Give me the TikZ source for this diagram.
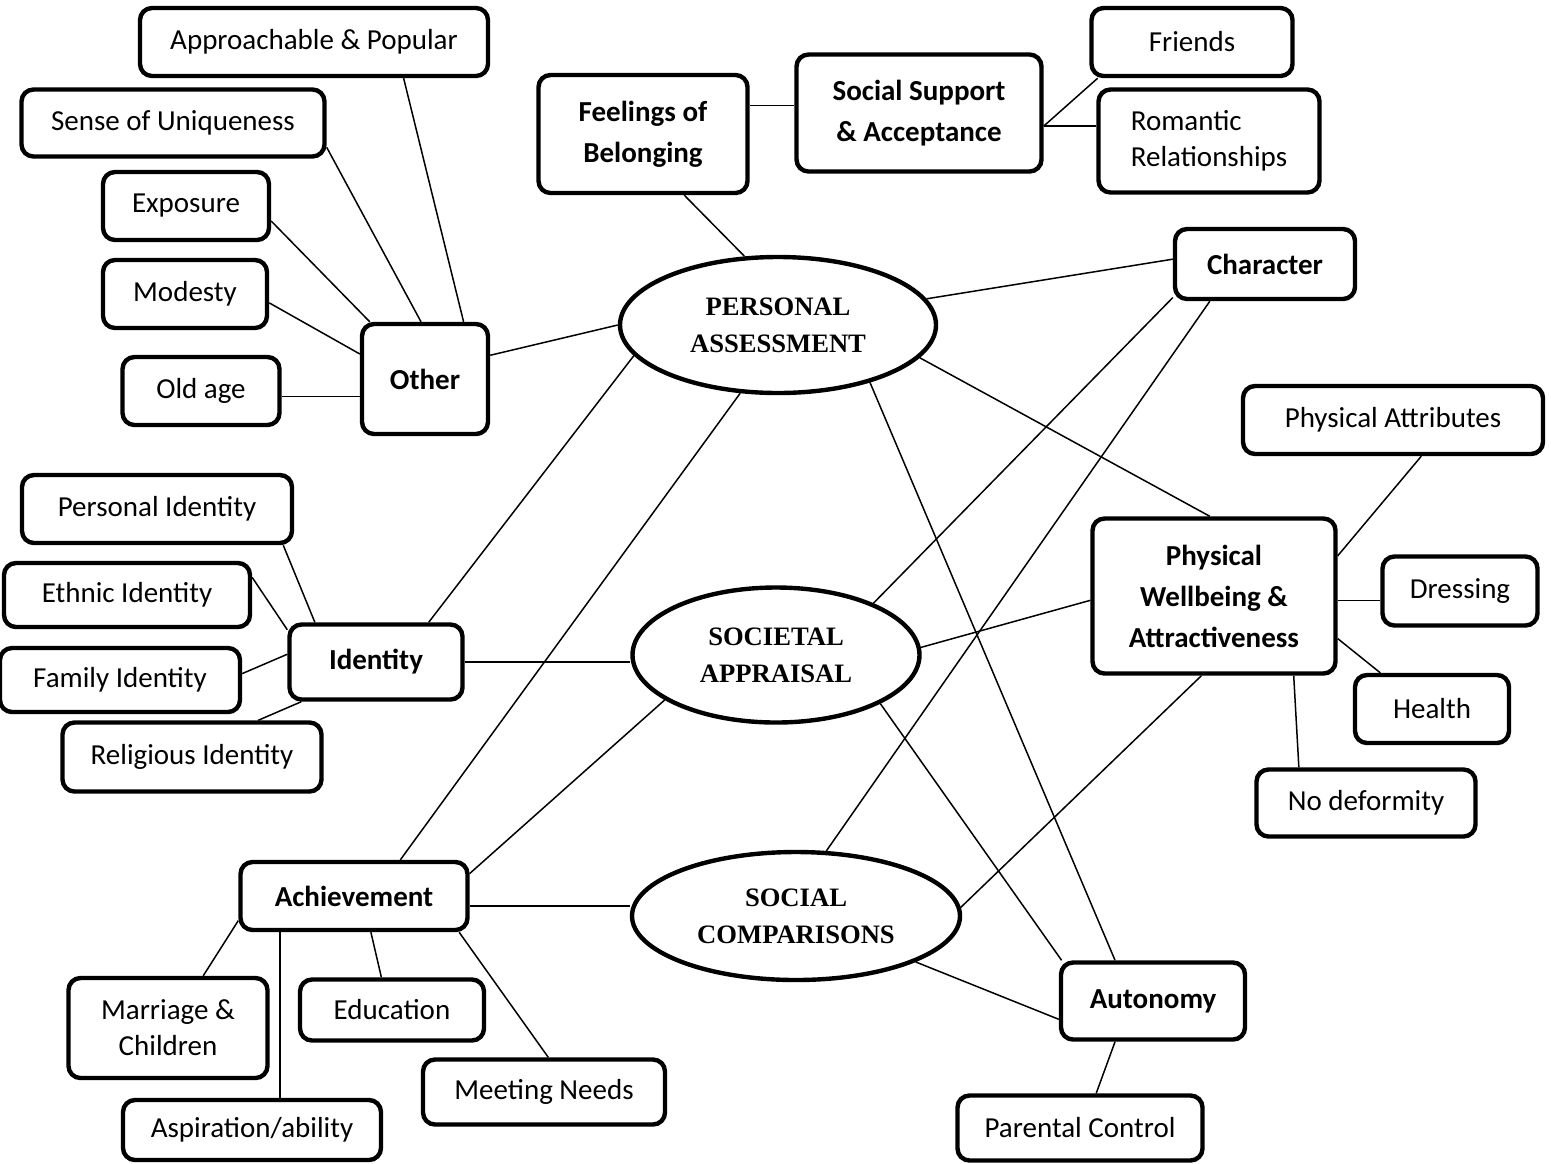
\documentclass[tikz,border=0pt]{standalone}
\usepackage{fontspec}
\setmainfont{Carlito}
\newfontfamily\tnr{Liberation Serif}
\usetikzlibrary{shapes.geometric}

\begin{document}
\begin{tikzpicture}[x=0.5pt, y=-0.5pt,
  sz/.style 2 args={minimum width=#1*0.5pt, minimum height=#2*0.5pt},
  leaf/.style={draw, line width=2.2pt, rounded corners=6pt, align=center,
    inner sep=2pt, font=\fontsize{14.5}{18}\selectfont},
  hub/.style={leaf, font=\fontsize{14.5}{20.5}\selectfont\bfseries},
  core/.style={draw, ellipse, line width=2.2pt, inner sep=0pt, align=center,
    font=\fontsize{13.3}{18.5}\selectfont\tnr\bfseries},
  link/.style={line width=0.75pt}]

\useasboundingbox (0,0) rectangle (1551,1163);

% the three appraisals
\node[core, sz={316}{136}] (pa) at (778,325) {PERSONAL\\ASSESSMENT};
\node[core, sz={287}{135}] (sa) at (776,655) {SOCIETAL\\APPRAISAL};
\node[core, sz={328}{128}] (sc) at (796,916) {SOCIAL\\COMPARISONS};

% other
\node[leaf, sz={348}{68}] (appr) at (314,42) {Approachable \& Popular};
\node[leaf, sz={303}{67}] (uniq) at (173,123) {Sense of Uniqueness};
\node[leaf, sz={166}{68}] (expo) at (186,206) {Exposure};
\node[leaf, sz={164}{68}] (mod) at (185,294) {Modesty};
\node[leaf, sz={157}{68}] (old) at (201,391) {Old age};
\node[hub, sz={126}{110}] (other) at (425,379) {Other};

% belonging
\node[hub, sz={209}{118}] (feel) at (643,134) {Feelings of\\Belonging};
\node[hub, sz={245}{117}] (supp) at (919,113) {Social Support\\\& Acceptance};
\node[leaf, sz={201}{68}] (friends) at (1192,42) {Friends};
\node[leaf, sz={221}{103}, align=left] (rom) at (1209,141) {Romantic\\Relationships};

\node[hub, sz={180}{70}] (char) at (1265,264) {Character};

% physical
\node[leaf, sz={300}{68}] (attr) at (1393,420) {Physical Attributes};
\node[hub, sz={243}{155}] (phys) at (1214,596) {Physical\\Wellbeing \&\\Attractiveness};
\node[leaf, sz={155}{69}] (dress) at (1460,591) {Dressing};
\node[leaf, sz={154}{68}] (health) at (1432,709) {Health};
\node[leaf, sz={219}{67}] (deform) at (1366,803) {No deformity};

\node[hub, sz={184}{77}] (auto) at (1153,1001) {Autonomy};
\node[leaf, sz={245}{65}] (parent) at (1080,1128) {Parental Control};

% identity
\node[leaf, sz={270}{68}] (pers) at (157,509) {Personal Identity};
\node[leaf, sz={246}{64}] (ethnic) at (127,595) {Ethnic Identity};
\node[leaf, sz={240}{64}] (family) at (120,680) {Family Identity};
\node[hub, sz={173}{75}] (ident) at (376,662) {Identity};
\node[leaf, sz={259}{69}] (relig) at (192,757) {Religious Identity};

% achievement
\node[hub, sz={227}{68}] (ach) at (354,896) {Achievement};
\node[leaf, sz={199}{100}] (marr) at (168,1028) {Marriage \&\\Children};
\node[leaf, sz={184}{61}] (edu) at (392,1010) {Education};
\node[leaf, sz={242}{65}] (needs) at (544,1092) {Meeting Needs};
\node[leaf, sz={258}{60}] (asp) at (252,1130) {Aspiration/ability};

\draw[link] (appr.-22) -- (other.56);
\draw[link] (uniq.-9) -- (other.94);
\draw[link] (expo.-10) -- (other.134);
\draw[link] (mod.-6) -- (other.159);
\draw[link] (old.-4) -- (old.-4 -| other.west);
\draw[link] (other.20) -- (pa.180);

\draw[link] (feel.-56) -- (pa.116);
\draw[link] (feel.15) -- (supp.west |- feel.15);
\draw[link] (supp.-6) -- (friends.201);
\draw[link] (supp.-6) -- (supp.-6 -| rom.west);

\draw[link] (pa.10) -- (char.177);
\draw[link] (sa.28) -- (char.200);
\draw[link] (sc.65) -- (char.214);

\draw[link] (pa.-13) -- (phys.93);
\draw[link] (sa.3) -- (phys.182);
\draw[link] (sc.3) -- (phys.261);
\draw[link] (phys.18) -- (attr.-52);
\draw[link] (phys.-2) -- (phys.-2 -| dress.west);
\draw[link] (phys.-19) -- (health.145);
\draw[link] (phys.-45) -- (deform.152);

\draw[link] (pa.-32) -- (auto.133);
\draw[link] (sa.-25) -- (auto.156);
\draw[link] (sc.-21) -- (auto.191);
\draw[link] (auto.227) -- (parent.65);

\draw[link] (pa.192) -- (ident.37);
\draw[link] (ident.east) -- (ident.east -| sa.west);
\draw[link] (pers.-16) -- (ident.147);
\draw[link] (ethnic.8) -- (ident.160);
\draw[link] (family.3) -- (ident.175);
\draw[link] (relig.29) -- (ident.208);

\draw[link] (pa.241) -- (ach.38);
\draw[link] (sa.202) -- (ach.11);
\draw[link] (ach.-5) -- (ach.-5 -| sc.west);
\draw[link] (ach.192) -- (marr.56);
\draw[link] (ach.206) -- (ach.206 |- asp.north);
\draw[link] (ach.-65) -- (edu.108);
\draw[link] (ach.-19) -- (needs.83);

\end{tikzpicture}
\end{document}
